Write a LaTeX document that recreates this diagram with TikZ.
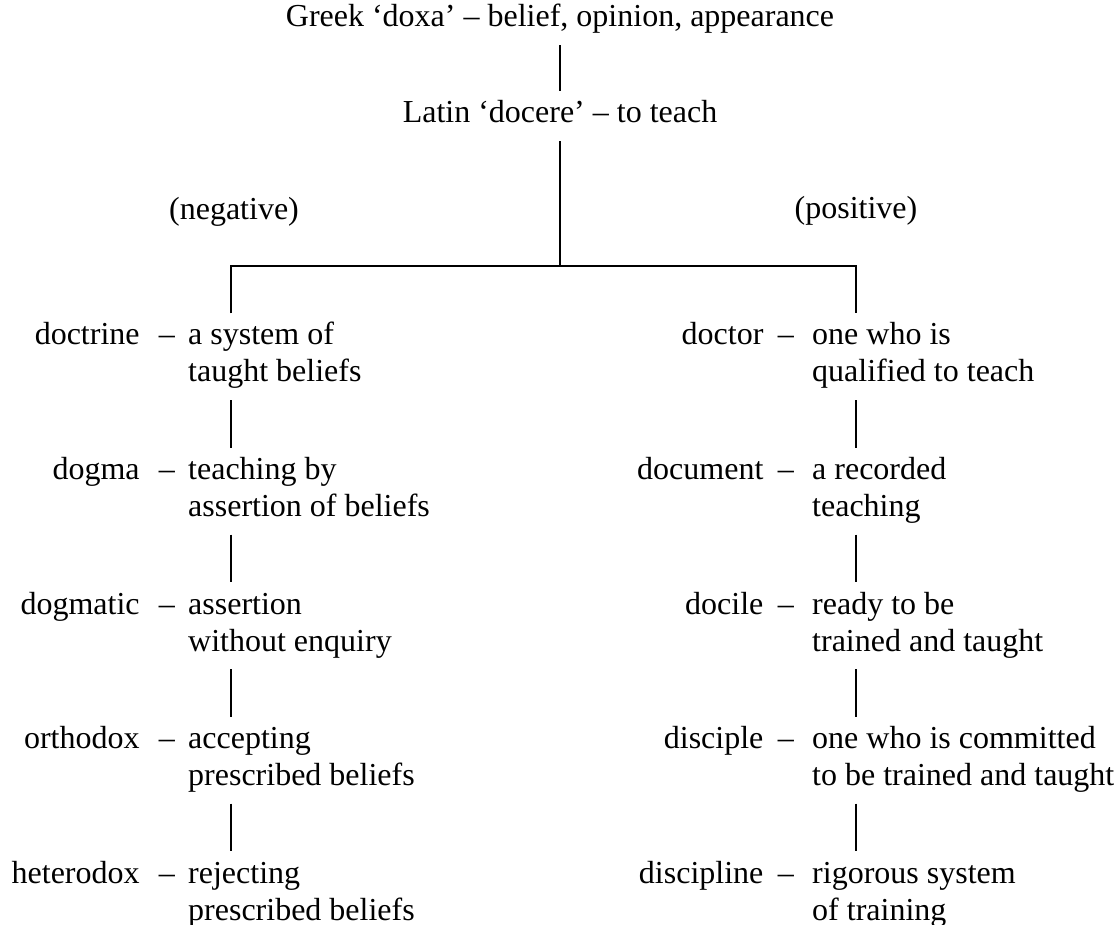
\documentclass[tikz,border=0pt]{standalone}
\usepackage{fontspec}
\setmainfont{Liberation Serif}
\usetikzlibrary{positioning, calc}

\tikzset{
  word/.style={font=\fontsize{32}{37}\selectfont, inner xsep=0pt, inner ysep=10pt, text height=21.5pt, text depth=8pt},
  term/.style={word, anchor=base east},
  gloss/.style={word, anchor=base west},
  link/.style={line width=2.2pt},
}

\begin{document}
\begin{tikzpicture}[x=1pt, y=1pt]
\useasboundingbox (0, 0) rectangle (1120, -925);

% roots
\node[word, anchor=base] (greek) at (560, -27) {Greek ‘doxa’ – belief, opinion, appearance};
\node[word, anchor=base] (latin) at (560, -123) {Latin ‘docere’ – to teach};
\node[word, anchor=base] (negative) at (234, -220) {(negative)};
\node[word, anchor=base] (positive) at (856, -219) {(positive)};

\coordinate (fork) at (latin |- 0, -266);
\coordinate (negfork) at (231, -266);
\coordinate (posfork) at (856, -266);

% negative side
\node[gloss] (doctrine1) at (188, -345) {a system of};
\node[gloss] (doctrine2) at ([yshift=-37pt]doctrine1.base west) {taught beliefs};
\node[term] (doctrine) at ([xshift=-13pt]doctrine1.base west) {doctrine\hspace{0.6em}–};

\node[gloss] (dogma1) at (188, -479.5) {teaching by};
\node[gloss] (dogma2) at ([yshift=-37pt]dogma1.base west) {assertion of beliefs};
\node[term] (dogma) at ([xshift=-13pt]dogma1.base west) {dogma\hspace{0.6em}–};

\node[gloss] (dogmatic1) at (188, -614) {assertion};
\node[gloss] (dogmatic2) at ([yshift=-37pt]dogmatic1.base west) {without enquiry};
\node[term] (dogmatic) at ([xshift=-13pt]dogmatic1.base west) {dogmatic\hspace{0.6em}–};

\node[gloss] (orthodox1) at (188, -748.5) {accepting};
\node[gloss] (orthodox2) at ([yshift=-37pt]orthodox1.base west) {prescribed beliefs};
\node[term] (orthodox) at ([xshift=-13pt]orthodox1.base west) {orthodox\hspace{0.6em}–};

\node[gloss] (heterodox1) at (188, -883) {rejecting};
\node[gloss] (heterodox2) at ([yshift=-37pt]heterodox1.base west) {prescribed beliefs};
\node[term] (heterodox) at ([xshift=-13pt]heterodox1.base west) {heterodox\hspace{0.6em}–};

% positive side
\node[gloss] (doctor1) at (812, -345) {one who is};
\node[gloss] (doctor2) at ([yshift=-37pt]doctor1.base west) {qualified to teach};
\node[term] (doctor) at ([xshift=-18pt]doctor1.base west) {doctor\hspace{0.45em}–};

\node[gloss] (document1) at (812, -479.5) {a recorded};
\node[gloss] (document2) at ([yshift=-37pt]document1.base west) {teaching};
\node[term] (document) at ([xshift=-18pt]document1.base west) {document\hspace{0.45em}–};

\node[gloss] (docile1) at (812, -614) {ready to be};
\node[gloss] (docile2) at ([yshift=-37pt]docile1.base west) {trained and taught};
\node[term] (docile) at ([xshift=-18pt]docile1.base west) {docile\hspace{0.45em}–};

\node[gloss] (disciple1) at (812, -748.5) {one who is committed};
\node[gloss] (disciple2) at ([yshift=-37pt]disciple1.base west) {to be trained and taught};
\node[term] (disciple) at ([xshift=-18pt]disciple1.base west) {disciple\hspace{0.45em}–};

\node[gloss] (discipline1) at (812, -883) {rigorous system};
\node[gloss] (discipline2) at ([yshift=-37pt]discipline1.base west) {of training};
\node[term] (discipline) at ([xshift=-18pt]discipline1.base west) {discipline\hspace{0.45em}–};

% connectors
\draw[link] (greek) -- (latin);
\draw[link] (latin) -- (fork);
\draw[link] (doctrine1.north -| negfork) -- (negfork) -- (posfork) -- (doctor1.north -| posfork);

\draw[link] (doctrine2.south -| negfork) -- (dogma1.north -| negfork);
\draw[link] (dogma2.south -| negfork) -- (dogmatic1.north -| negfork);
\draw[link] (dogmatic2.south -| negfork) -- (orthodox1.north -| negfork);
\draw[link] (orthodox2.south -| negfork) -- (heterodox1.north -| negfork);

\draw[link] (doctor2.south -| posfork) -- (document1.north -| posfork);
\draw[link] (document2.south -| posfork) -- (docile1.north -| posfork);
\draw[link] (docile2.south -| posfork) -- (disciple1.north -| posfork);
\draw[link] (disciple2.south -| posfork) -- (discipline1.north -| posfork);

\end{tikzpicture}
\end{document}
